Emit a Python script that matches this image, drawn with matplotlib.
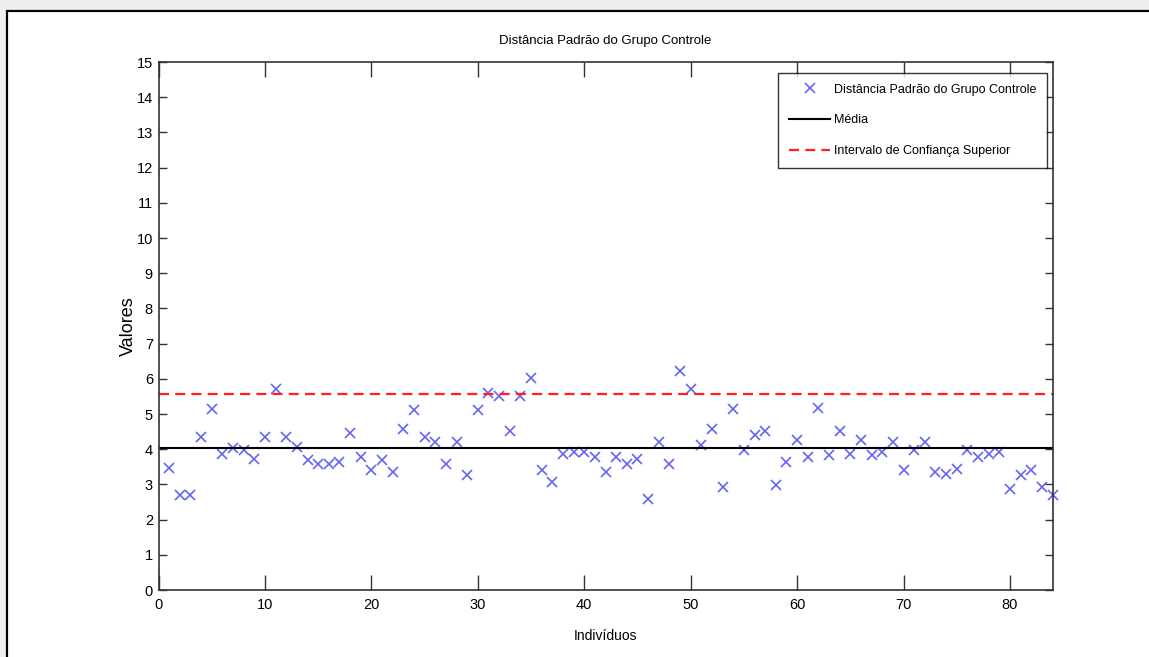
import matplotlib
matplotlib.use('Agg')
import matplotlib.pyplot as plt
from matplotlib.patches import Rectangle

plt.rcParams['font.family'] = ['Liberation Sans', 'DejaVu Sans']

# Valores
individuos = list(range(1, 85))
distancias = [3.47, 2.69, 2.69, 4.35, 5.15, 3.87, 4.02, 3.99, 3.73, 4.35,
              5.71, 4.35, 4.07, 3.69, 3.59, 3.59, 3.64, 4.45, 3.78, 3.40,
              3.69, 3.35, 4.56, 5.11, 4.35, 4.21, 3.59, 4.20, 3.26, 5.11,
              5.61, 5.51, 4.51, 5.51, 6.02, 3.40, 3.07, 3.85, 3.92, 3.92,
              3.78, 3.35, 3.78, 3.59, 3.73, 2.59, 4.21, 3.59, 6.21, 5.71,
              4.11, 4.56, 2.92, 5.15, 3.97, 4.40, 4.51, 2.97, 3.64, 4.26,
              3.78, 5.16, 3.83, 4.51, 3.85, 4.26, 3.83, 3.92, 4.20, 3.40,
              3.97, 4.21, 3.35, 3.30, 3.45, 3.97, 3.78, 3.87, 3.92, 2.88,
              3.26, 3.40, 2.92, 2.69]
media = 4.03
ic_superior = 5.56

xlim = (0, 84)
ylim = (0, 15)
xticks = list(range(0, 81, 10))
yticks = list(range(0, 16))

fig = plt.figure(figsize=(11.49, 6.57), dpi=100)
fig.patch.set_facecolor('#efefef')
# moldura da janela
fig.add_artist(Rectangle((7 / 1149, -0.1), 1.2, 1 - 11 / 657 + 0.1,
                         transform=fig.transFigure, facecolor='white',
                         edgecolor='black', linewidth=1.6, zorder=-5))

ax = fig.add_axes([158.5 / 1149, 1 - 590 / 657, (1052.5 - 158.5) / 1149, (590 - 62) / 657])

ax.plot(individuos, distancias, 'x', color='#6464f5', markersize=7, markeredgewidth=1.2,
        label='Distância Padrão do Grupo Controle', clip_on=False)
ax.plot(xlim, [media, media], '-', color='black', linewidth=1.5, label='Média')
ax.plot(xlim, [ic_superior, ic_superior], '--', color='#ff2020', linewidth=1.6,
        dashes=(4.5, 2.8), label='Intervalo de Confiança Superior')

ax.set_xlim(xlim)
ax.set_ylim(ylim)
ax.set_xticks(xticks)
ax.set_yticks(yticks)
ax.tick_params(axis='both', direction='in', top=True, right=True, labelsize=10.5,
               color='#333333', width=1.0)
ax.tick_params(axis='x', length=11, pad=6)
ax.tick_params(axis='y', length=6, pad=4)
for s in ax.spines.values():
    s.set_color('#333333')
    s.set_linewidth(1.2)

ax.set_title('Distância Padrão do Grupo Controle', fontsize=9.5, pad=13)
ax.set_xlabel('Indivíduos', fontsize=10, labelpad=12)
ax.set_ylabel('Valores', fontsize=13, labelpad=0)

leg = ax.legend(loc='upper right', fontsize=9, frameon=True, fancybox=False,
                edgecolor='black', borderpad=0.85, handlelength=3.3, handletextpad=0.3,
                labelspacing=1.5, borderaxespad=0,
                bbox_to_anchor=(1 - 5.5 / 894, 1 - 11 / 528))
leg.get_frame().set_linewidth(1.0)

plt.savefig('out.png', dpi=100, facecolor=fig.get_facecolor())
